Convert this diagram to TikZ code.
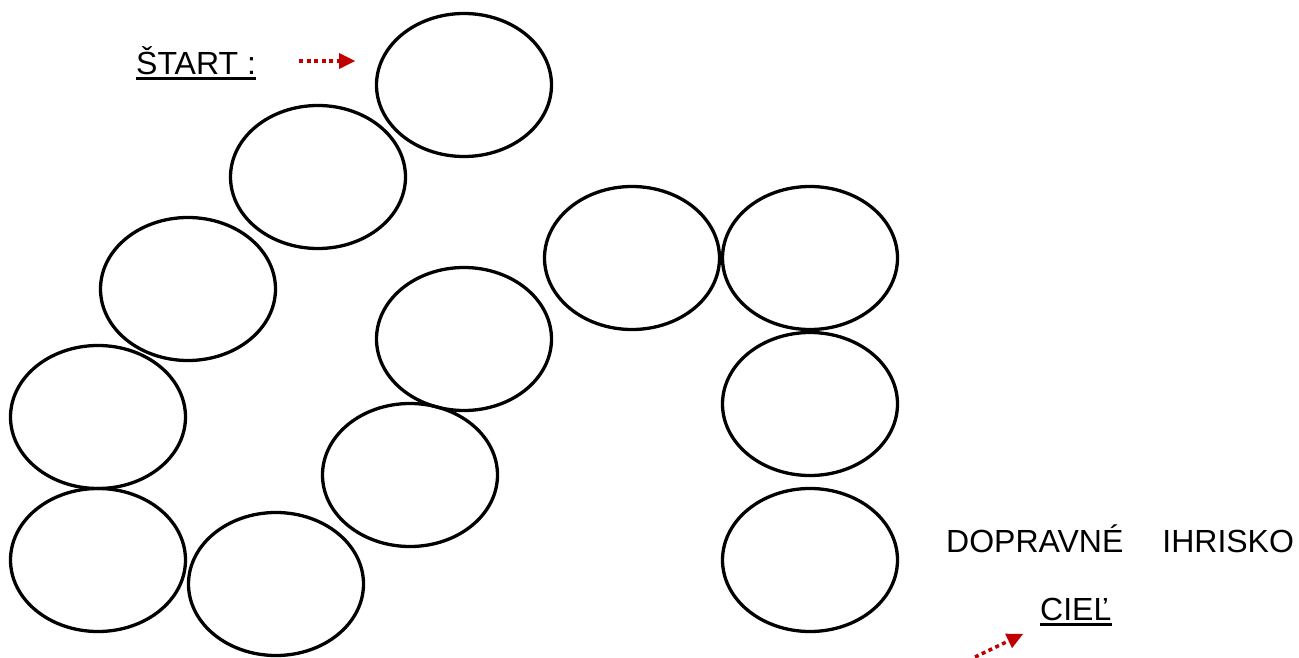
\documentclass[tikz,border=0pt]{standalone}
\usepackage{fontspec}
\setmainfont{Liberation Sans}
\usetikzlibrary{shapes.geometric,arrows.meta}
\definecolor{arrred}{HTML}{C00000}
\tikzset{
  ell/.style={ellipse, draw=black, line width=3.3, minimum width=175, minimum height=143, inner sep=0},
  lbl/.style={inner sep=0, anchor=base west, font=\fontsize{32}{38}\selectfont},
  uline/.style={line width=3},
  redarrow/.style={draw=arrred, line width=3.5, dash pattern=on 4 off 3.5, -{Triangle[length=16, width=16, color=arrred, fill=arrred, line width=0]}}
}
\begin{document}
\begin{tikzpicture}[x=1pt, y=-1pt]
\useasboundingbox (0,0) rectangle (1299,658);
\node[ell] (e1) at (464,85) {};
\node[ell] (e2) at (318,177) {};
\node[ell] (e3) at (188,289) {};
\node[ell] (e4) at (98,417) {};
\node[ell] (e5) at (98,560) {};
\node[ell] (e6) at (276,584) {};
\node[ell] (e7) at (410,475) {};
\node[ell] (e8) at (464,339) {};
\node[ell] (e9) at (632,258) {};
\node[ell] (e10) at (810,258) {};
\node[ell] (e11) at (810,404) {};
\node[ell] (e12) at (810,560) {};

\node[lbl] (start) at (136,75) {ŠTART :};
\draw[uline] ([yshift=-4]start.base west) -- ([yshift=-4]start.base east);
\node[lbl] (title) at (946,552) {DOPRAVNÉ\hspace{39pt}IHRISKO};
\node[lbl] (ciel) at (1040,620) {CIEĽ};
\draw[uline] ([yshift=-4]ciel.base west) -- ([yshift=-4]ciel.base east);

\coordinate (s1) at (299,61);
\coordinate (s2) at (355,61);
\draw[redarrow] (s1) -- (s2);
\coordinate (c1) at (975,657);
\coordinate (c2) at (1023,634);
\draw[redarrow] (c1) -- (c2);
\end{tikzpicture}
\end{document}
